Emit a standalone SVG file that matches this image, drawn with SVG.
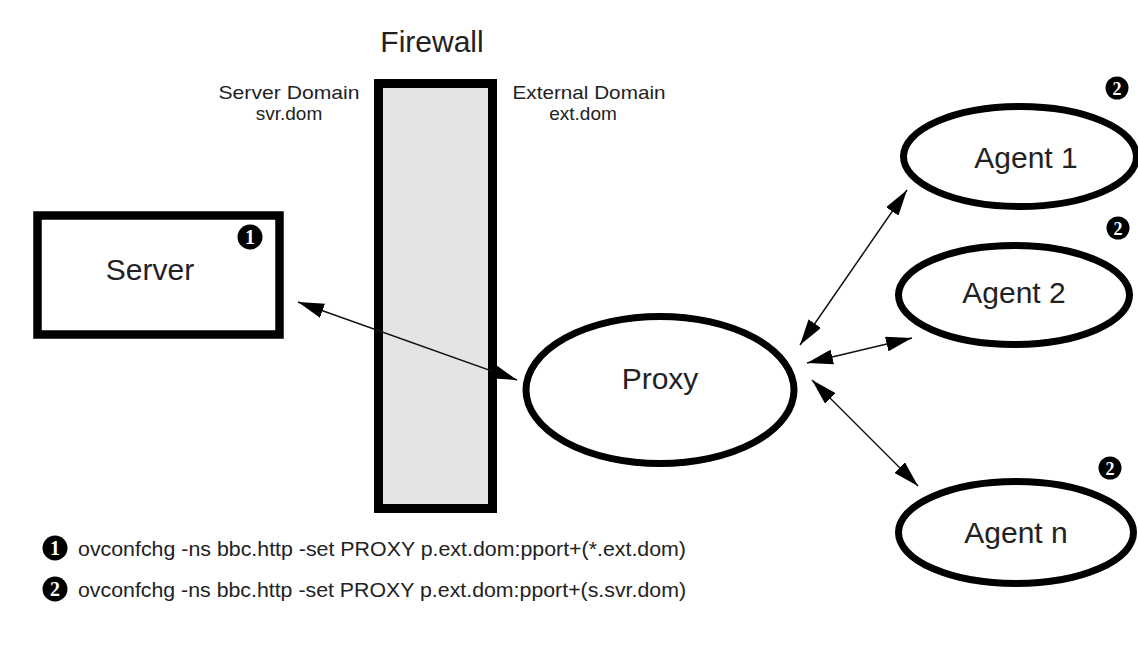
<svg xmlns="http://www.w3.org/2000/svg" width="1138" height="665" viewBox="0 0 1138 665">
<style>
.t{font-family:"Liberation Sans",Arial,sans-serif;fill:#222;}
.big{font-size:30px;text-anchor:middle;}
.dom{font-size:19px;text-anchor:middle;}
.foot{font-size:20px;}
.box{fill:#fff;stroke:#000;stroke-width:8.5;}
.ell{fill:#fff;stroke:#000;stroke-width:7;}
.fw{fill:#e4e4e4;stroke:#000;stroke-width:9;}
.conn{stroke:#111;stroke-width:1.5;fill:none;marker-start:url(#ah);marker-end:url(#ah);}
.badge{fill:#000;}
.bnum{font-family:"Liberation Serif","Times New Roman",serif;font-weight:bold;fill:#fff;text-anchor:middle;}
</style>
<defs>
<marker id="ah" viewBox="0 0 26 15" refX="26" refY="7.5" markerWidth="26" markerHeight="15" markerUnits="userSpaceOnUse" orient="auto-start-reverse">
<path d="M0,0 L26,7.5 L0,15 z" fill="#000"/>
</marker>
</defs>
<rect width="1138" height="665" fill="#fff"/>

<g id="firewall">
<rect class="fw" x="378.5" y="83.5" width="114" height="425"/>
<text class="t big" x="432" y="52" font-size="30">Firewall</text>
</g>

<g id="domains">
<text class="t dom" x="289" y="99" textLength="141" lengthAdjust="spacingAndGlyphs">Server Domain</text>
<text class="t dom" x="289" y="120">svr.dom</text>
<text class="t dom" x="589" y="99" textLength="153" lengthAdjust="spacingAndGlyphs">External Domain</text>
<text class="t dom" x="583" y="120">ext.dom</text>
</g>

<g id="connectors">
<line class="conn" x1="298" y1="302" x2="517" y2="380"/>
<line class="conn" x1="800" y1="345" x2="907" y2="190"/>
<line class="conn" x1="807" y1="363" x2="912" y2="338"/>
<line class="conn" x1="812" y1="380" x2="918" y2="486"/>
</g>

<g id="server">
<rect class="box" x="37.5" y="215.5" width="242" height="119"/>
<text class="t big" x="150" y="280">Server</text>
<circle class="badge" cx="250" cy="237" r="12.5"/>
<text class="bnum" x="250" y="244" font-size="20">1</text>
</g>

<g id="proxy">
<ellipse class="ell" cx="660" cy="390" rx="134" ry="73.5"/>
<text class="t big" x="660" y="389">Proxy</text>
</g>

<g id="agent1">
<ellipse class="ell" cx="1020" cy="156.5" rx="116.5" ry="50"/>
<text class="t big" x="1026" y="168">Agent 1</text>
<circle class="badge" cx="1117" cy="88" r="11.5"/>
<text class="bnum" x="1117" y="94.5" font-size="18">2</text>
</g>

<g id="agent2">
<ellipse class="ell" cx="1014" cy="295" rx="115.5" ry="49.5"/>
<text class="t big" x="1014" y="303">Agent 2</text>
<circle class="badge" cx="1118" cy="228" r="11.5"/>
<text class="bnum" x="1118" y="234.5" font-size="18">2</text>
</g>

<g id="agentn">
<ellipse class="ell" cx="1016" cy="532.5" rx="117.5" ry="51"/>
<text class="t big" x="1016" y="543">Agent n</text>
<circle class="badge" cx="1110" cy="468" r="11.5"/>
<text class="bnum" x="1110" y="474.5" font-size="18">2</text>
</g>

<g id="legend">
<circle class="badge" cx="55" cy="548" r="12.5"/>
<text class="bnum" x="55" y="555" font-size="20">1</text>
<text class="t foot" x="78" y="556" textLength="608" lengthAdjust="spacingAndGlyphs">ovconfchg -ns bbc.http -set PROXY p.ext.dom:pport+(*.ext.dom)</text>
<circle class="badge" cx="55" cy="589" r="12.5"/>
<text class="bnum" x="55" y="596" font-size="20">2</text>
<text class="t foot" x="78" y="597" textLength="608" lengthAdjust="spacingAndGlyphs">ovconfchg -ns bbc.http -set PROXY p.ext.dom:pport+(s.svr.dom)</text>
</g>
</svg>
